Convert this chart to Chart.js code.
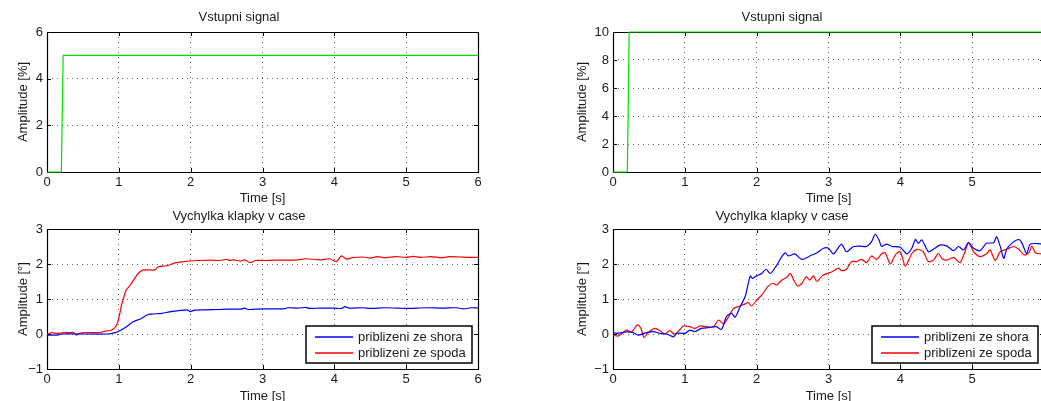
<!DOCTYPE html>
<html>
<head>
<meta charset="utf-8">
<script src="https://cdn.jsdelivr.net/npm/chart.js@4"></script>
<style>
  html, body { margin: 0; padding: 0; background: #fff; overflow: hidden; }
  #fig { position: relative; width: 1041px; height: 401px; overflow: hidden; background: #fff; }
  #fig canvas { position: absolute; }
</style>
</head>
<body>
<div id="fig">
  <canvas id="inLeft" width="520" height="210" style="left:0;top:0"></canvas>
  <canvas id="inRight" width="540" height="210" style="left:520px;top:0"></canvas>
  <canvas id="outLeft" width="520" height="210" style="left:0;top:200px"></canvas>
  <canvas id="outRight" width="540" height="210" style="left:520px;top:200px"></canvas>
</div>
<script>
// input step signals
const tIn = [0, 0.2, 0.225, 6];
const uLeft = [0, 0, 5, 5];
const uRight = [0, 0, 10, 10];

// flap deflection, left experiment
const tShoraL = [0, 0.15, 0.2, 0.85, 0.95, 1.0, 1.1, 1.2, 1.3, 1.4, 1.45, 1.6, 1.7, 1.8, 1.95, 2.0, 2.05, 2.2, 2.4, 2.5, 2.7, 2.75, 2.8, 3.0, 3.3, 3.35, 3.5, 3.6, 3.65, 3.8, 4.0, 4.1, 4.15, 4.2, 4.4, 4.5, 4.7, 4.9, 5.0, 5.3, 5.5, 5.7, 5.8, 5.9, 6.0];
const yShoraL = [-0.03, -0.03, 0, 0, 0.04, 0.08, 0.2, 0.35, 0.43, 0.55, 0.57, 0.59, 0.63, 0.66, 0.69, 0.64, 0.68, 0.69, 0.70, 0.71, 0.71, 0.74, 0.70, 0.72, 0.72, 0.75, 0.74, 0.76, 0.73, 0.74, 0.74, 0.73, 0.78, 0.74, 0.75, 0.73, 0.75, 0.74, 0.73, 0.75, 0.74, 0.75, 0.72, 0.75, 0.74];
const tSpodaL = [0, 0.05, 0.07, 0.1, 0.3, 0.37, 0.41, 0.45, 0.55, 0.74, 0.78, 0.88, 0.93, 0.97, 1.0, 1.04, 1.07, 1.1, 1.16, 1.23, 1.27, 1.34, 1.5, 1.55, 1.67, 1.78, 1.9, 2.1, 2.3, 2.4, 2.5, 2.55, 2.6, 2.7, 2.75, 2.83, 2.9, 3.0, 3.2, 3.5, 3.6, 3.8, 3.94, 4.03, 4.1, 4.17, 4.25, 4.4, 4.5, 4.6, 4.7, 4.85, 5.0, 5.1, 5.2, 5.35, 5.5, 5.6, 5.75, 5.9, 6.0];
const ySpodaL = [0, 0.02, 0.05, 0.02, 0.04, 0.04, -0.03, 0.02, 0.04, 0.04, 0.07, 0.1, 0.15, 0.26, 0.45, 0.85, 1.05, 1.25, 1.4, 1.62, 1.73, 1.83, 1.83, 1.92, 1.95, 2.03, 2.07, 2.10, 2.11, 2.10, 2.13, 2.10, 2.12, 2.08, 2.12, 2.04, 2.10, 2.10, 2.11, 2.12, 2.15, 2.12, 2.15, 2.07, 2.23, 2.14, 2.18, 2.20, 2.17, 2.21, 2.18, 2.21, 2.19, 2.22, 2.19, 2.21, 2.18, 2.21, 2.20, 2.19, 2.19];

// flap deflection, right experiment
const tShoraR = [0, 0.05, 0.19, 0.28, 0.35, 0.47, 0.56, 0.65, 0.75, 0.84, 0.89, 1.0, 1.07, 1.14, 1.23, 1.33, 1.44, 1.51, 1.58, 1.65, 1.70, 1.77, 1.84, 1.91, 1.94, 2.0, 2.07, 2.13, 2.19, 2.28, 2.35, 2.40, 2.44, 2.53, 2.63, 2.74, 2.84, 2.93, 3.0, 3.07, 3.18, 3.25, 3.35, 3.44, 3.53, 3.60, 3.65, 3.70, 3.74, 3.81, 3.88, 4.0, 4.09, 4.16, 4.21, 4.25, 4.30, 4.39, 4.46, 4.55, 4.65, 4.74, 4.81, 4.88, 4.95, 5.02, 5.11, 5.20, 5.30, 5.34, 5.39, 5.44, 5.48, 5.55, 5.65, 5.69, 5.76, 5.81, 6.0];
const yShoraR = [0.04, 0.02, 0.06, 0.04, -0.03, 0.04, 0.07, 0.02, 0, -0.08, 0.02, 0.02, 0.11, 0.07, 0.16, 0.18, 0.21, 0.13, 0.5, 0.59, 0.48, 0.78, 1.07, 1.66, 1.59, 1.66, 1.73, 1.85, 1.73, 1.97, 2.21, 2.32, 2.23, 2.29, 2.13, 2.23, 2.32, 2.45, 2.45, 2.29, 2.57, 2.35, 2.5, 2.51, 2.5, 2.64, 2.85, 2.70, 2.5, 2.57, 2.5, 2.48, 2.29, 2.45, 2.70, 2.59, 2.69, 2.35, 2.42, 2.54, 2.51, 2.38, 2.5, 2.4, 2.61, 2.45, 2.38, 2.59, 2.61, 2.78, 2.51, 2.16, 2.42, 2.59, 2.70, 2.61, 2.30, 2.57, 2.57];
const tSpodaR = [0, 0.07, 0.14, 0.19, 0.26, 0.34, 0.39, 0.43, 0.49, 0.58, 0.65, 0.72, 0.79, 0.85, 0.91, 0.98, 1.07, 1.14, 1.21, 1.30, 1.40, 1.47, 1.54, 1.61, 1.68, 1.77, 1.84, 1.88, 1.93, 2.0, 2.07, 2.16, 2.23, 2.28, 2.35, 2.42, 2.47, 2.51, 2.57, 2.63, 2.69, 2.74, 2.79, 2.84, 2.91, 2.98, 3.05, 3.14, 3.18, 3.25, 3.32, 3.39, 3.46, 3.53, 3.60, 3.67, 3.74, 3.79, 3.86, 3.93, 4.0, 4.07, 4.16, 4.23, 4.32, 4.39, 4.46, 4.53, 4.58, 4.65, 4.74, 4.83, 4.90, 4.95, 5.02, 5.11, 5.20, 5.25, 5.32, 5.39, 5.48, 5.58, 5.65, 5.72, 5.79, 5.83, 5.88, 5.96, 6.0];
const ySpodaR = [-0.03, -0.06, 0.04, 0.11, 0.06, 0.26, 0.16, -0.1, 0.04, 0.16, 0.1, 0, 0.1, 0, 0.07, 0.23, 0.21, 0.16, 0.23, 0.21, 0.21, 0.4, 0.29, 0.5, 0.73, 0.8, 0.86, 0.9, 0.8, 0.97, 1.11, 1.37, 1.45, 1.4, 1.54, 1.62, 1.73, 1.56, 1.37, 1.45, 1.64, 1.54, 1.66, 1.5, 1.66, 1.73, 1.78, 1.88, 1.81, 1.85, 2.07, 2.07, 2.13, 2.04, 2.23, 2.13, 2.29, 2.32, 2.0, 2.26, 2.35, 1.94, 2.30, 2.42, 2.35, 2.07, 2.11, 2.30, 2.16, 2.11, 2.19, 2.04, 2.35, 2.61, 2.35, 2.21, 2.29, 2.4, 2.10, 2.35, 2.42, 2.5, 2.42, 2.26, 2.32, 2.51, 2.32, 2.29, 2.29];

const xTicks = [0, 1, 2, 3, 4, 5, 6];
const legendLabels = ["priblizeni ze shora", "priblizeni ze spoda"];
const seriesColors = ["#0000ff", "#ff0000"];

const FONT = "'Liberation Sans', Arial, Helvetica, sans-serif";
const TEXT = "#1a1a1a";

const toPoints = (xs, ys) => xs.map((x, i) => ({x: x, y: ys[i]}));

// matlab look: box, inward ticks, legend box inside the axes
const matlabAxes = {
    id: "matlabAxes",
    beforeDatasetsDraw(chart) {
        const {ctx, chartArea: a, scales} = chart;
        ctx.save();
        ctx.strokeStyle = "#000";
        ctx.lineWidth = 1.2;
        ctx.beginPath();
        ctx.rect(Math.round(a.left) + 0.5, Math.round(a.top) + 0.5, Math.round(a.right - a.left), Math.round(a.bottom - a.top));
        ctx.stroke();
        const len = 4;
        ctx.lineWidth = 1;
        ctx.beginPath();
        scales.x.ticks.forEach(t => {
            const px = Math.round(scales.x.getPixelForValue(t.value)) + 0.5;
            ctx.moveTo(px, a.bottom); ctx.lineTo(px, a.bottom - len);
            ctx.moveTo(px, a.top); ctx.lineTo(px, a.top + len);
        });
        scales.y.ticks.forEach(t => {
            const py = Math.round(scales.y.getPixelForValue(t.value)) + 0.5;
            ctx.moveTo(a.left, py); ctx.lineTo(a.left + len, py);
            ctx.moveTo(a.right, py); ctx.lineTo(a.right - len, py);
        });
        ctx.stroke();
        ctx.restore();
    },
    afterDatasetsDraw(chart, args, opts) {
        if (!opts.legend) return;
        const {ctx, chartArea: a} = chart;
        const w = 166, h = 37;
        const left = Math.round(a.right - 6 - w), top = Math.round(a.bottom - 6 - h);
        ctx.save();
        ctx.fillStyle = "#fff";
        ctx.fillRect(left, top, w, h);
        ctx.strokeStyle = "#000";
        ctx.lineWidth = 1.5;
        ctx.strokeRect(left, top, w, h);
        ctx.font = "13px " + FONT;
        ctx.textBaseline = "middle";
        ctx.textAlign = "left";
        legendLabels.forEach((label, i) => {
            const y = top + 11 + i * 16;
            ctx.strokeStyle = seriesColors[i];
            ctx.lineWidth = 1.6;
            ctx.beginPath();
            ctx.moveTo(left + 9, y);
            ctx.lineTo(left + 47, y);
            ctx.stroke();
            ctx.fillStyle = TEXT;
            ctx.fillText(label, left + 52, y);
        });
        ctx.restore();
    }
};

function makeChart(id, o) {
    const el = document.getElementById(id);
    const dotted = {color: "rgba(0,0,0,0.6)", lineWidth: 1, drawTicks: false};
    return new Chart(el, {
        type: "line",
        data: {datasets: o.datasets},
        options: {
            responsive: false,
            animation: false,
            devicePixelRatio: 1,
            layout: {padding: {left: 0, top: 0, right: el.width - o.right, bottom: 0}},
            elements: {point: {radius: 0}, line: {borderWidth: 1.2, tension: 0.25}},
            plugins: {
                legend: {display: false},
                tooltip: {enabled: false},
                title: {
                    display: true,
                    text: o.title,
                    color: TEXT,
                    font: {family: FONT, size: 13, weight: "normal", lineHeight: "14px"},
                    padding: {top: o.titleTop, bottom: o.top - 14 - o.titleTop}
                },
                matlabAxes: {legend: o.legend}
            },
            scales: {
                x: {
                    type: "linear",
                    min: 0, max: 6,
                    afterBuildTicks: s => { s.ticks = xTicks.map(v => ({value: v})); },
                    afterFit: s => { s.height = el.height - o.bottom; },
                    grid: dotted,
                    border: {display: false, dash: [1, 4]},
                    ticks: {color: TEXT, font: {family: FONT, size: 13}, padding: 3, maxRotation: 0, autoSkip: false},
                    title: {display: true, text: "Time [s]", color: TEXT, font: {family: FONT, size: 13, lineHeight: "14px"}, padding: {top: 0, bottom: el.height - o.xTitleY - 7}}
                },
                y: {
                    min: o.yMin, max: o.yMax,
                    afterFit: s => { s.width = o.left; },
                    grid: dotted,
                    border: {display: false, dash: [1, 4]},
                    ticks: {
                        color: TEXT, font: {family: FONT, size: 13}, padding: 4, stepSize: o.yStep,
                        callback: v => (v < 0 ? "\u2212" + Math.abs(v) : String(v))
                    },
                    title: {display: true, text: o.yLabel, color: TEXT, font: {family: FONT, size: 13, lineHeight: "14px"}, padding: {top: o.yTitleX - 7, bottom: 0}}
                }
            }
        },
        plugins: [matlabAxes]
    });
}

const green = {borderColor: "#00e000", clip: 2};

makeChart("inLeft", {
    title: "Vstupni signal", yLabel: "Amplitude [%]",
    left: 47, right: 478, top: 32, bottom: 172, titleTop: 10, xTitleY: 198, yTitleX: 23,
    yMin: 0, yMax: 6, yStep: 2, legend: false,
    datasets: [Object.assign({label: "u", data: toPoints(tIn, uLeft), tension: 0}, green)]
});

makeChart("inRight", {
    title: "Vstupni signal", yLabel: "Amplitude [%]",
    left: 93, right: 524, top: 32, bottom: 172, titleTop: 10, xTitleY: 198, yTitleX: 62,
    yMin: 0, yMax: 10, yStep: 2, legend: false,
    datasets: [Object.assign({label: "u", data: toPoints(tIn, uRight), tension: 0}, green)]
});

makeChart("outLeft", {
    title: "Vychylka klapky v case", yLabel: "Amplitude [\u00b0]",
    left: 47, right: 478, top: 29, bottom: 169, titleTop: 9, xTitleY: 196, yTitleX: 23,
    yMin: -1, yMax: 3, yStep: 1, legend: true,
    datasets: [
        {label: legendLabels[0], data: toPoints(tShoraL, yShoraL), borderColor: seriesColors[0]},
        {label: legendLabels[1], data: toPoints(tSpodaL, ySpodaL), borderColor: seriesColors[1]}
    ]
});

makeChart("outRight", {
    title: "Vychylka klapky v case", yLabel: "Amplitude [\u00b0]",
    left: 93, right: 524, top: 29, bottom: 169, titleTop: 9, xTitleY: 196, yTitleX: 62,
    yMin: -1, yMax: 3, yStep: 1, legend: true,
    datasets: [
        {label: legendLabels[0], data: toPoints(tShoraR, yShoraR), borderColor: seriesColors[0]},
        {label: legendLabels[1], data: toPoints(tSpodaR, ySpodaR), borderColor: seriesColors[1]}
    ]
});
</script>
</body>
</html>
